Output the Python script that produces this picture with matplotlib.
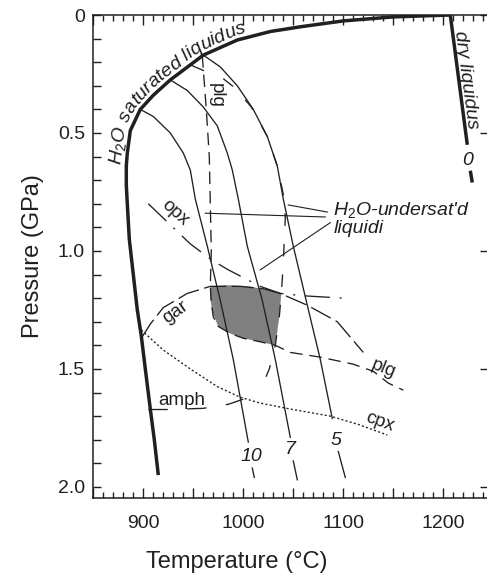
import numpy as np
import matplotlib
matplotlib.use('Agg')
import matplotlib.pyplot as plt
from matplotlib.ticker import MultipleLocator, FuncFormatter
from matplotlib.transforms import IdentityTransform

plt.rcParams['font.family'] = ['Liberation Sans', 'DejaVu Sans']
plt.rcParams['mathtext.fontset'] = 'custom'
plt.rcParams['mathtext.rm'] = 'Liberation Sans'
plt.rcParams['mathtext.it'] = 'Liberation Sans:italic'
plt.rcParams['mathtext.default'] = 'it'
plt.rcParams['lines.scale_dashes'] = False

INK = '#231f20'

# --- data (T in degC, P in GPa) ---
liq_T = [1207, 1150, 1100, 1057, 1027, 994, 960, 927, 910, 897, 887, 884, 883, 883, 884, 886, 890, 894, 898, 902, 907, 911, 915]
liq_P = [0.0, 0.008, 0.025, 0.05, 0.07, 0.106, 0.17, 0.275, 0.34, 0.40, 0.49, 0.585, 0.64, 0.72, 0.80, 0.95, 1.10, 1.25, 1.36, 1.50, 1.67, 1.80, 1.95]

dry_T = [1207, 1224]
dry_P = [0.0, 0.55]
dry2_T = [1227, 1229]
dry2_P = [0.66, 0.71]

c10_T = [897, 910, 927, 940, 947, 952, 964, 977, 990, 1005]
c10_P = [0.40, 0.43, 0.50, 0.585, 0.657, 0.78, 0.98, 1.21, 1.46, 1.81]
c10b_T = [1009, 1011]
c10b_P = [1.92, 1.96]

c7_T = [927, 944, 960, 974, 984, 989, 995, 1004, 1019, 1032, 1047]
c7_P = [0.275, 0.32, 0.39, 0.47, 0.585, 0.657, 0.78, 0.98, 1.21, 1.46, 1.79]
c7b_T = [1050, 1054]
c7b_P = [1.89, 1.97]

c5_T = [960, 977, 994, 1010, 1024, 1034, 1040, 1050, 1064, 1077, 1089]
c5_P = [0.17, 0.22, 0.30, 0.40, 0.515, 0.64, 0.78, 0.98, 1.23, 1.46, 1.71]
c5b_T = [1095, 1102]
c5b_P = [1.85, 1.96]

# plg: vertical dashed line, round the shaded field, out to the right
plg_T = [959, 960, 963, 966, 967, 968, 967, 968, 970, 975, 987, 1000, 1017, 1032, 1047, 1077, 1110, 1130, 1145, 1160]
plg_P = [0.17, 0.23, 0.40, 0.60, 0.80, 1.00, 1.15, 1.22, 1.28, 1.32, 1.35, 1.37, 1.385, 1.40, 1.43, 1.45, 1.48, 1.51, 1.56, 1.59]
tick_T = [949, 960]
tick_P = [0.215, 0.235]

# long-dashed boundary right of curve 5
ld_T = [980, 992, 1008, 1024, 1034, 1040, 1042, 1041, 1040, 1039, 1038, 1036, 1032, 1026, 1017]
ld_P = [0.27, 0.31, 0.39, 0.515, 0.64, 0.76, 0.86, 0.95, 1.05, 1.12, 1.18, 1.28, 1.40, 1.50, 1.59]

gar_T = [898, 907, 920, 944, 967, 997, 1020, 1037, 1064, 1094, 1120]
gar_P = [1.37, 1.31, 1.24, 1.18, 1.15, 1.15, 1.16, 1.18, 1.23, 1.30, 1.43]

opx_T = [905, 947, 969, 985, 1017, 1037, 1060, 1100]
opx_P = [0.80, 0.97, 1.04, 1.08, 1.15, 1.18, 1.19, 1.20]

cpx_T = [898, 920, 947, 974, 997, 1017, 1047, 1087, 1115, 1144]
cpx_P = [1.335, 1.42, 1.50, 1.575, 1.62, 1.645, 1.67, 1.70, 1.735, 1.78]

amph_T = [905, 925, 960, 985, 1000]
amph_P = [1.672, 1.672, 1.667, 1.65, 1.628]

field_T = [967, 985, 1005, 1025, 1038, 1036, 1032, 1017, 1000, 987, 975, 969, 967]
field_P = [1.15, 1.145, 1.15, 1.165, 1.18, 1.28, 1.40, 1.385, 1.37, 1.35, 1.32, 1.26, 1.20]

# leader lines for the H2O-undersaturated label
lead_T = [[1045, 1084], [962, 1082], [1017, 1087]]
lead_P = [[0.805, 0.835], [0.84, 0.856], [1.08, 0.88]]


def text_on_curve(ax, xs, ys, parts, off, s0=0.0, **kw):
    # lay the characters one by one along a curve offset by `off` pixels
    r = ax.figure.canvas.get_renderer()
    base = ax.transData.transform(np.column_stack([xs, ys]))
    tg = np.gradient(base, axis=0)
    tg = tg / np.hypot(tg[:, 0], tg[:, 1])[:, None]
    pts = base + np.column_stack([-tg[:, 1], tg[:, 0]]) * off
    seg = np.diff(pts, axis=0)
    L = np.concatenate([[0], np.cumsum(np.hypot(seg[:, 0], seg[:, 1]))])

    def at(s):
        s = np.clip(s, 0, L[-1])
        i = int(np.clip(np.searchsorted(L, s) - 1, 0, len(seg) - 1))
        f = (s - L[i]) / (L[i + 1] - L[i])
        return pts[i] + f * seg[i]

    def ext(txt):
        t = ax.text(0, 0, txt + '|', **kw)
        w = t.get_window_extent(r).width
        t.remove()
        return w

    bar = ext('')
    starts = [ext(''.join(parts[:i])) - bar for i in range(len(parts) + 1)]
    for i, c in enumerate(parts):
        a = at(s0 + starts[i])
        b = at(s0 + starts[i + 1])
        d = b - a
        if not c.strip():
            continue
        ang = np.degrees(np.arctan2(d[1], d[0]))
        ax.text(a[0], a[1], c, transform=IdentityTransform(), rotation=ang,
                ha='left', va='baseline', rotation_mode='anchor', clip_on=False, **kw)


fig = plt.figure(figsize=(4.87, 5.77), dpi=100)
ax = fig.add_axes([93.3 / 487, 79 / 577, 395 / 487, 483 / 577])
ax.set_xlim(850, 1245)
ax.set_ylim(2.047, 0)

thin = dict(color=INK, lw=0.95)
ax.fill(field_T, field_P, color='#808080', lw=0, zorder=1)

ax.plot(liq_T, liq_P, color=INK, lw=2.5, solid_capstyle='butt', zorder=3)
ax.plot(dry_T, dry_P, color=INK, lw=2.5, solid_capstyle='butt', zorder=3)
ax.plot(dry2_T, dry2_P, color=INK, lw=2.5, solid_capstyle='butt', zorder=3)

for tt, pp in [(c10_T, c10_P), (c7_T, c7_P), (c5_T, c5_P)]:
    ax.plot(tt, pp, zorder=2, **thin)
for tt, pp in [(c10b_T, c10b_P), (c7b_T, c7b_P), (c5b_T, c5b_P)]:
    ax.plot(tt, pp, zorder=2, **thin)

ax.plot(plg_T, plg_P, dashes=(9, 5), zorder=2, **thin)
ax.plot(tick_T, tick_P, zorder=2, **thin)
ax.plot(ld_T, ld_P, dashes=(9, 13), zorder=2, **thin)
ax.plot(gar_T, gar_P, dashes=(16, 4), zorder=2, **thin)
ax.plot(opx_T, opx_P, dashes=(18, 7, 1.5, 7), zorder=2, **thin)
ax.plot(cpx_T, cpx_P, dashes=(1.5, 1.6), zorder=2, **thin)
ax.plot(amph_T, amph_P, dashes=(14, 14), zorder=2, **thin)
for tt, pp in zip(lead_T, lead_P):
    ax.plot(tt, pp, color=INK, lw=0.8, zorder=2)

# labels
it = dict(fontsize=14, style='italic', color=INK)
up = dict(fontsize=13.5, color=INK)
ax.text(1222.5, 0.275, 'dry liquidus', rotation=-82.4, ha='center', va='center', rotation_mode='anchor', **it)
ax.text(1224, 0.615, '0', ha='center', va='center', **it)
ax.text(1008, 1.87, '10', ha='center', va='center', **it)
ax.text(1047, 1.84, '7', ha='center', va='center', **it)
ax.text(1093, 1.805, '5', ha='center', va='center', **it)
ax.text(1090, 0.847, "H$_2$O-undersat'd", ha='left', va='baseline', **it)
ax.text(1090, 0.925, 'liquidi', ha='left', va='baseline', **it)

ax.text(973, 0.34, 'plg', rotation=-90, ha='center', va='center', rotation_mode='anchor', **up)
ax.text(932, 0.84, 'opx', rotation=-42, ha='center', va='center', rotation_mode='anchor', **up)
ax.text(932, 1.26, 'gar', rotation=35, ha='center', va='center', rotation_mode='anchor', **up)
ax.text(1140, 1.50, 'plg', rotation=-22, ha='center', va='center', rotation_mode='anchor', **up)
ax.text(1137, 1.725, 'cpx', rotation=-20, ha='center', va='center', rotation_mode='anchor', **up)
ax.text(938, 1.635, 'amph', ha='center', va='center', **up)

# ticks
ax.xaxis.set_major_locator(MultipleLocator(50))
ax.xaxis.set_minor_locator(MultipleLocator(10))
ax.xaxis.set_major_formatter(FuncFormatter(lambda v, p: '%d' % v if v % 100 == 0 else ''))
ax.yaxis.set_major_locator(MultipleLocator(0.5))
ax.yaxis.set_minor_locator(MultipleLocator(0.1))
ax.yaxis.set_major_formatter(FuncFormatter(lambda v, p: '0' if v == 0 else '%.1f' % v))
ax.tick_params(axis='x', which='both', direction='in', top=True, bottom=True, colors=INK, labelsize=14, pad=12)
ax.tick_params(axis='x', which='major', length=7, width=1)
ax.tick_params(axis='x', which='minor', length=4, width=1)
ax.tick_params(axis='y', which='both', direction='in', left=True, colors=INK, labelsize=14, length=6, width=1, pad=6)
ax.tick_params(axis='y', which='major', right=True)
ax.tick_params(axis='y', which='minor', right=False)
for sp in ax.spines.values():
    sp.set_color(INK)
    sp.set_linewidth(1.1)

ax.set_xlabel('Temperature (\u00b0C)', fontsize=17, color=INK)
ax.xaxis.set_label_coords((237 - 93.3) / 395, -0.11)
ax.set_ylabel('Pressure (GPa)', fontsize=17, color=INK, labelpad=10)

# curved label along the saturated liquidus
fig.canvas.draw()
k = liq_P.index(0.64)
path_T = liq_T[:k + 1][::-1]
path_P = liq_P[:k + 1][::-1]
parts = ['H$_2$O'] + list(' saturated liquidus')
text_on_curve(ax, path_T, path_P, parts, off=5, s0=0, **it)

fig.savefig('out.png', dpi=100)
